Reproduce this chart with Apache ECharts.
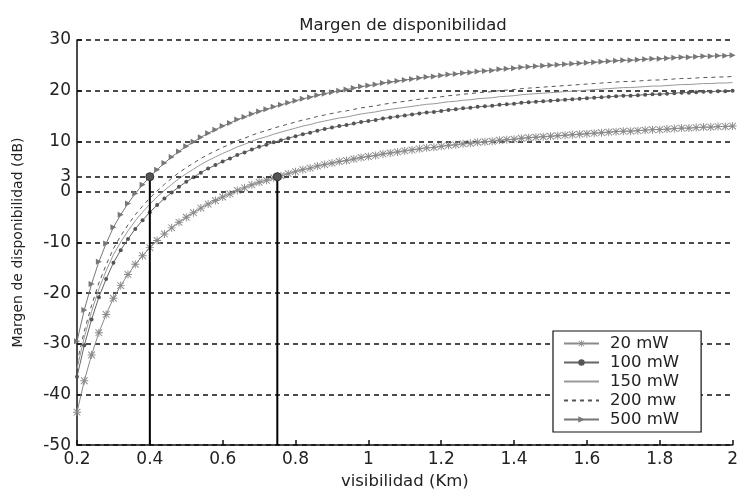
<!DOCTYPE html>
<html>
<head>
<meta charset="utf-8">
<script src="https://cdn.jsdelivr.net/npm/echarts@6/dist/echarts.min.js"></script>
<style>
html,body{margin:0;padding:0;background:#fff;}
#chart{width:741px;height:495px;}
</style>
</head>
<body>
<div id="chart"></div>
<script>
// ---- data ----
const visibilidad = [
  0.20,0.22,0.24,0.26,0.28,0.30,0.32,0.34,0.36,0.38,
  0.40,0.42,0.44,0.46,0.48,0.50,0.52,0.54,0.56,0.58,
  0.60,0.62,0.64,0.66,0.68,0.70,0.72,0.74,0.76,0.78,
  0.80,0.82,0.84,0.86,0.88,0.90,0.92,0.94,0.96,0.98,
  1.00,1.02,1.04,1.06,1.08,1.10,1.12,1.14,1.16,1.18,
  1.20,1.22,1.24,1.26,1.28,1.30,1.32,1.34,1.36,1.38,
  1.40,1.42,1.44,1.46,1.48,1.50,1.52,1.54,1.56,1.58,
  1.60,1.62,1.64,1.66,1.68,1.70,1.72,1.74,1.76,1.78,
  1.80,1.82,1.84,1.86,1.88,1.90,1.92,1.94,1.96,1.98,2.00
];
const margen20mW = [
  -43.5,-37.3,-32.2,-27.8,-24.2,-21.0,-18.5,-16.3,-14.3,-12.6,
  -11.0,-9.6,-8.3,-7.1,-6.0,-5.0,-4.1,-3.2,-2.4,-1.7,
  -1.0,-0.4,0.3,0.8,1.4,1.9,2.3,2.8,3.2,3.6,
  4.0,4.4,4.7,5.1,5.4,5.7,6.0,6.2,6.5,6.8,
  7.0,7.2,7.5,7.7,7.9,8.1,8.3,8.5,8.7,8.8,
  9.0,9.2,9.3,9.5,9.6,9.8,9.9,10.0,10.2,10.3,
  10.4,10.6,10.7,10.8,10.9,11.0,11.1,11.2,11.3,11.4,
  11.5,11.6,11.7,11.8,11.9,12.0,12.0,12.1,12.2,12.3,
  12.3,12.4,12.5,12.6,12.6,12.7,12.8,12.8,12.9,12.9,13.0
];
const margen100mW = [
  -36.5,-30.3,-25.2,-20.8,-17.2,-14.0,-11.5,-9.3,-7.3,-5.6,
  -4.0,-2.6,-1.3,-0.1,1.0,2.0,2.9,3.8,4.6,5.3,
  6.0,6.6,7.3,7.8,8.4,8.9,9.3,9.8,10.2,10.6,
  11.0,11.4,11.7,12.1,12.4,12.7,13.0,13.2,13.5,13.8,
  14.0,14.2,14.5,14.7,14.9,15.1,15.3,15.5,15.7,15.8,
  16.0,16.2,16.3,16.5,16.6,16.8,16.9,17.0,17.2,17.3,
  17.4,17.6,17.7,17.8,17.9,18.0,18.1,18.2,18.3,18.4,
  18.5,18.6,18.7,18.8,18.9,19.0,19.0,19.1,19.2,19.3,
  19.3,19.4,19.5,19.6,19.6,19.7,19.8,19.8,19.9,19.9,20.0
];
const margen150mW = [
  -34.9,-28.7,-23.6,-19.2,-15.6,-12.4,-9.9,-7.7,-5.7,-4.0,
  -2.4,-1.0,0.3,1.5,2.6,3.6,4.5,5.4,6.2,6.9,
  7.6,8.2,8.9,9.4,10.0,10.5,10.9,11.4,11.8,12.2,
  12.6,13.0,13.3,13.7,14.0,14.3,14.6,14.8,15.1,15.4,
  15.6,15.8,16.1,16.3,16.5,16.7,16.9,17.1,17.3,17.4,
  17.6,17.8,17.9,18.1,18.2,18.4,18.5,18.6,18.8,18.9,
  19.0,19.2,19.3,19.4,19.5,19.6,19.7,19.8,19.9,20.0,
  20.1,20.2,20.3,20.4,20.5,20.6,20.6,20.7,20.8,20.9,
  20.9,21.0,21.1,21.2,21.2,21.3,21.4,21.4,21.5,21.5,21.6
];
const margen200mW = [
  -33.7,-27.5,-22.4,-18.0,-14.4,-11.2,-8.7,-6.5,-4.5,-2.8,
  -1.2,0.2,1.5,2.7,3.8,4.8,5.7,6.6,7.4,8.1,
  8.8,9.4,10.1,10.6,11.2,11.7,12.1,12.6,13.0,13.4,
  13.8,14.2,14.5,14.9,15.2,15.5,15.8,16.0,16.3,16.6,
  16.8,17.0,17.3,17.5,17.7,17.9,18.1,18.3,18.5,18.6,
  18.8,19.0,19.1,19.3,19.4,19.6,19.7,19.8,20.0,20.1,
  20.2,20.4,20.5,20.6,20.7,20.8,20.9,21.0,21.1,21.2,
  21.3,21.4,21.5,21.6,21.7,21.8,21.8,21.9,22.0,22.1,
  22.1,22.2,22.3,22.4,22.4,22.5,22.6,22.6,22.7,22.7,22.8
];
const margen500mW = [
  -29.5,-23.3,-18.2,-13.8,-10.2,-7.0,-4.5,-2.3,-0.3,1.4,
  3.0,4.4,5.7,6.9,8.0,9.0,9.9,10.8,11.6,12.3,
  13.0,13.6,14.3,14.8,15.4,15.9,16.3,16.8,17.2,17.6,
  18.0,18.4,18.7,19.1,19.4,19.7,20.0,20.2,20.5,20.8,
  21.0,21.2,21.5,21.7,21.9,22.1,22.3,22.5,22.7,22.8,
  23.0,23.2,23.3,23.5,23.6,23.8,23.9,24.0,24.2,24.3,
  24.4,24.6,24.7,24.8,24.9,25.0,25.1,25.2,25.3,25.4,
  25.5,25.6,25.7,25.8,25.9,26.0,26.0,26.1,26.2,26.3,
  26.3,26.4,26.5,26.6,26.6,26.7,26.8,26.8,26.9,26.9,27.0
];
const seriesNames = ['20 mW', '100 mW', '150 mW', '200 mw', '500 mW'];
const xTicks = [0.2, 0.4, 0.6, 0.8, 1, 1.2, 1.4, 1.6, 1.8, 2];
const yTicks = [-50, -40, -30, -20, -10, 0, 3, 10, 20, 30];
const umbralMargen = 3;                 // 3 dB threshold line
const umbralVisibilidad = [0.4, 0.75];  // visibilities where margin reaches 3 dB
const yMin = -50, yMax = 30;

// ---- build ----
const FONT = 'DejaVu Sans, Liberation Sans, sans-serif';
function zip(ys) { return visibilidad.map((x, i) => [x, ys[i]]); }
const starPath = 'path://M5.3,0L6.7,0L6.7,12L5.3,12Z M0,5.3L12,5.3L12,6.7L0,6.7Z M1.5,0.5L11.5,10.5L10.5,11.5L0.5,1.5Z M10.5,0.5L11.5,1.5L1.5,11.5L0.5,10.5Z';
const triPath = 'path://M0,0L10,5L0,10Z';

const series = [
  { name: seriesNames[0], type: 'line', data: zip(margen20mW), showAllSymbol: true,
    symbol: starPath, symbolSize: 8, color: '#8a8a8a',
    lineStyle: { width: 1, color: '#8a8a8a' }, itemStyle: { color: '#8a8a8a' } },
  { name: seriesNames[1], type: 'line', data: zip(margen100mW), showAllSymbol: true,
    symbol: 'circle', symbolSize: 4, color: '#555',
    lineStyle: { width: 1, color: '#666' }, itemStyle: { color: '#555' } },
  { name: seriesNames[2], type: 'line', data: zip(margen150mW), symbol: 'circle', showSymbol: false, color: '#999',
    lineStyle: { width: 1, color: '#999' }, itemStyle: { color: '#999', opacity: 0 } },
  { name: seriesNames[3], type: 'line', data: zip(margen200mW), symbol: 'circle', showSymbol: false, color: '#555',
    lineStyle: { width: 1, color: '#555', type: [4, 4] }, itemStyle: { color: '#555', opacity: 0 } },
  { name: seriesNames[4], type: 'line', data: zip(margen500mW), showAllSymbol: true,
    symbol: triPath, symbolSize: 6, color: '#777',
    lineStyle: { width: 1, color: '#777' }, itemStyle: { color: '#777' } }
];
umbralVisibilidad.forEach((v, i) => {
  series.push({
    name: 'umbral' + i, type: 'line',
    data: [{ value: [v, yMin], symbolSize: 0 }, { value: [v, umbralMargen], symbolSize: 8 }],
    symbol: 'circle', showSymbol: true,
    lineStyle: { color: '#000', width: 2 }, itemStyle: { color: '#555', borderColor: '#333', borderWidth: 1 },
    z: 5,
    markLine: i === 0 ? {
      silent: true, symbol: 'none', label: { show: false },
      lineStyle: { color: '#111', type: [5, 4], width: 1.5 },
      data: [{ yAxis: umbralMargen }]
    } : undefined
  });
});

const chart = echarts.init(document.getElementById('chart'), null, { renderer: 'canvas' });
chart.setOption({
  animation: false,
  backgroundColor: '#fff',
  title: {
    text: 'Margen de disponibilidad', left: 398, textAlign: 'center', top: 12,
    textStyle: { fontFamily: FONT, fontSize: 16.5, fontWeight: 'normal', color: '#222' }
  },
  grid: { left: 77, right: 8, top: 40, bottom: 44, containLabel: false },
  legend: {
    data: seriesNames, orient: 'vertical', left: 553, top: 331,
    padding: [4, 22, 4, 10], itemWidth: 35, itemHeight: 8, itemGap: 2,
    backgroundColor: '#fff', borderColor: '#111', borderWidth: 1.2,
    textStyle: { fontFamily: FONT, fontSize: 16.5, lineHeight: 14, color: '#222', padding: [0, 0, 0, 6] }
  },
  xAxis: {
    type: 'value', min: 0.2, max: 2, interval: 0.2,
    name: 'visibilidad (Km)', nameLocation: 'middle', nameGap: 24,
    nameTextStyle: { fontFamily: FONT, fontSize: 16.5, color: '#222' },
    axisLine: { onZero: false, lineStyle: { color: '#111', width: 1.5 } },
    axisTick: { inside: true, length: 5, lineStyle: { color: '#111', width: 1.5 } },
    axisLabel: { fontFamily: FONT, fontSize: 17, color: '#222', margin: 6, customValues: xTicks,
      formatter: v => String(+v.toFixed(1)) },
    splitLine: { show: false }
  },
  yAxis: {
    type: 'value', min: yMin, max: yMax, interval: 10,
    name: 'Margen de disponibilidad (dB)', nameLocation: 'middle', nameGap: 52, nameRotate: 90,
    nameTextStyle: { fontFamily: FONT, fontSize: 14, color: '#222' },
    axisLine: { show: true, onZero: false, lineStyle: { color: '#111', width: 1.5 } },
    axisTick: { show: true, inside: true, length: 5, lineStyle: { color: '#111', width: 1.5 } },
    axisLabel: { fontFamily: FONT, fontSize: 17, color: '#222', margin: 6, customValues: yTicks },
    splitLine: { show: true, lineStyle: { color: '#111', type: [5, 4], width: 1.5 } }
  },
  series: series
});
</script>
</body>
</html>
